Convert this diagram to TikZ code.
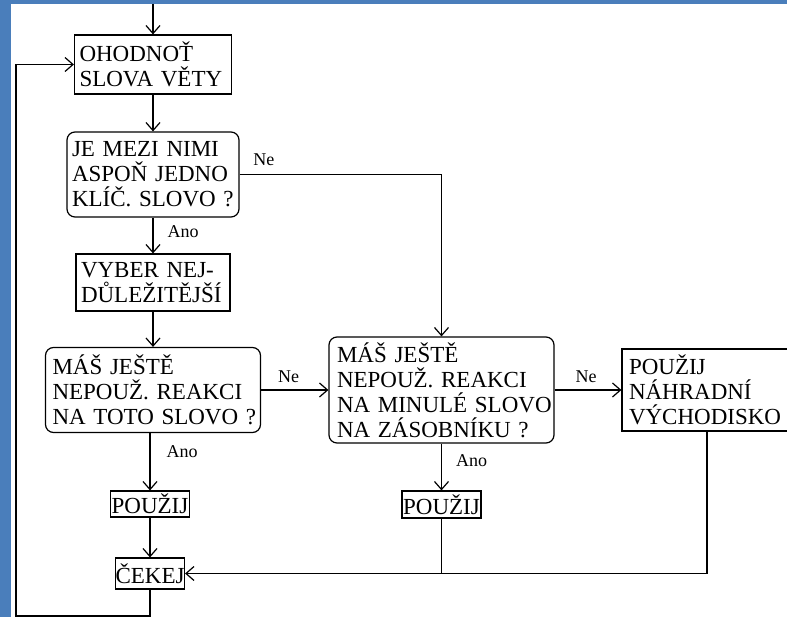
\documentclass[tikz,border=0pt]{standalone}
\usepackage{fontspec}
\setmainfont{Liberation Serif}
\usetikzlibrary{arrows.meta,positioning}
\definecolor{frameblue}{RGB}{74,126,187}
\begin{document}
\begin{tikzpicture}[x=1pt, y=-1pt, line width=1.2pt,
  box/.style={draw, align=left, inner xsep=5pt, inner ysep=1pt, font=\fontsize{23}{25}\selectfont,
    execute at begin node={\hyphenpenalty=10000\hbadness=10000\hfuzz=20pt}},
  qbox/.style={box, rounded corners=8pt},
  small/.style={draw, inner sep=0pt, font=\fontsize{23}{25}\selectfont},
  flow/.style={-{Straight Barb[length=8pt,width=14pt]}},
  lbl/.style={inner sep=0pt, font=\fontsize{18}{20}\selectfont}]
% frame
\fill[frameblue] (0,0) rectangle (787,617);
\fill[white] (11,4) rectangle (787,617);
\useasboundingbox (0,0) rectangle (787,617);
% boxes
\node[box, text width=147pt, minimum height=59pt] (eval) at (153,64.5) {OHODNOŤ\\SLOVA~VĚTY};
\node[qbox, text width=162pt, minimum height=85pt] (key) at (153,174.5) {JE~MEZI~NIMI\\ASPOŇ~JEDNO\\KLÍČ.~SLOVO~?};
\node[box, text width=144pt, minimum height=57pt] (pick) at (153,282.5) {VYBER~NEJ-\\DŮLEŽITĚJŠÍ};
\node[qbox, inner xsep=7pt, text width=201pt, minimum height=85pt] (cur) at (153,390) {MÁŠ~JEŠTĚ\\NEPOUŽ.~REAKCI\\NA~TOTO~SLOVO~?};
\node[qbox, inner xsep=8pt, text width=209pt, minimum height=106pt] (old) at (441.5,390) {MÁŠ~JEŠTĚ\\NEPOUŽ.~REAKCI\\NA~MINULÉ~SLOVO\\NA~ZÁSOBNÍKU~?};
\node[box, inner xsep=7pt, text width=156pt, minimum height=82pt] (plan) at (707,390) {POUŽIJ\\NÁHRADNÍ\\VÝCHODISKO};
\node[small, minimum width=79pt, minimum height=26pt] (use1) at (150,504) {POUŽIJ};
\node[small, minimum width=79pt, minimum height=27pt] (use2) at (441.5,504.5) {POUŽIJ};
\node[small, minimum width=68pt, minimum height=31pt] (wait) at (150,573.5) {ČEKEJ};
\coordinate (entry) at (153,4);
\coordinate (corner) at (16,616);
% connectors
\draw[flow] (entry) -- (eval);
\draw[flow] (eval) -- (key);
\draw[flow] (key) -- node[lbl, pos=0.38, right=14pt] {Ano} (pick);
\draw[flow] (key.east) -| node[lbl, pos=0.06, above=8pt] {Ne} (old.north);
\draw[flow] (pick) -- (cur);
\draw[flow] (cur) -- node[lbl, pos=0.41, above=7pt] {Ne} (old);
\draw[flow] (old) -- node[lbl, pos=0.47, above=7pt] {Ne} (plan);
\draw[flow] (use1 |- cur.south) -- node[lbl, pos=0.33, right=16pt] {Ano} (use1);
\draw[flow] (old) -- node[lbl, pos=0.37, right=14pt] {Ano} (use2);
\draw[flow] (use1) -- (wait);
\draw (use2) -- (use2 |- wait.east);
\draw[flow] (plan.south) |- (wait.east);
\draw[flow] (wait.south) |- (corner) |- (eval.west);
\end{tikzpicture}
\end{document}
